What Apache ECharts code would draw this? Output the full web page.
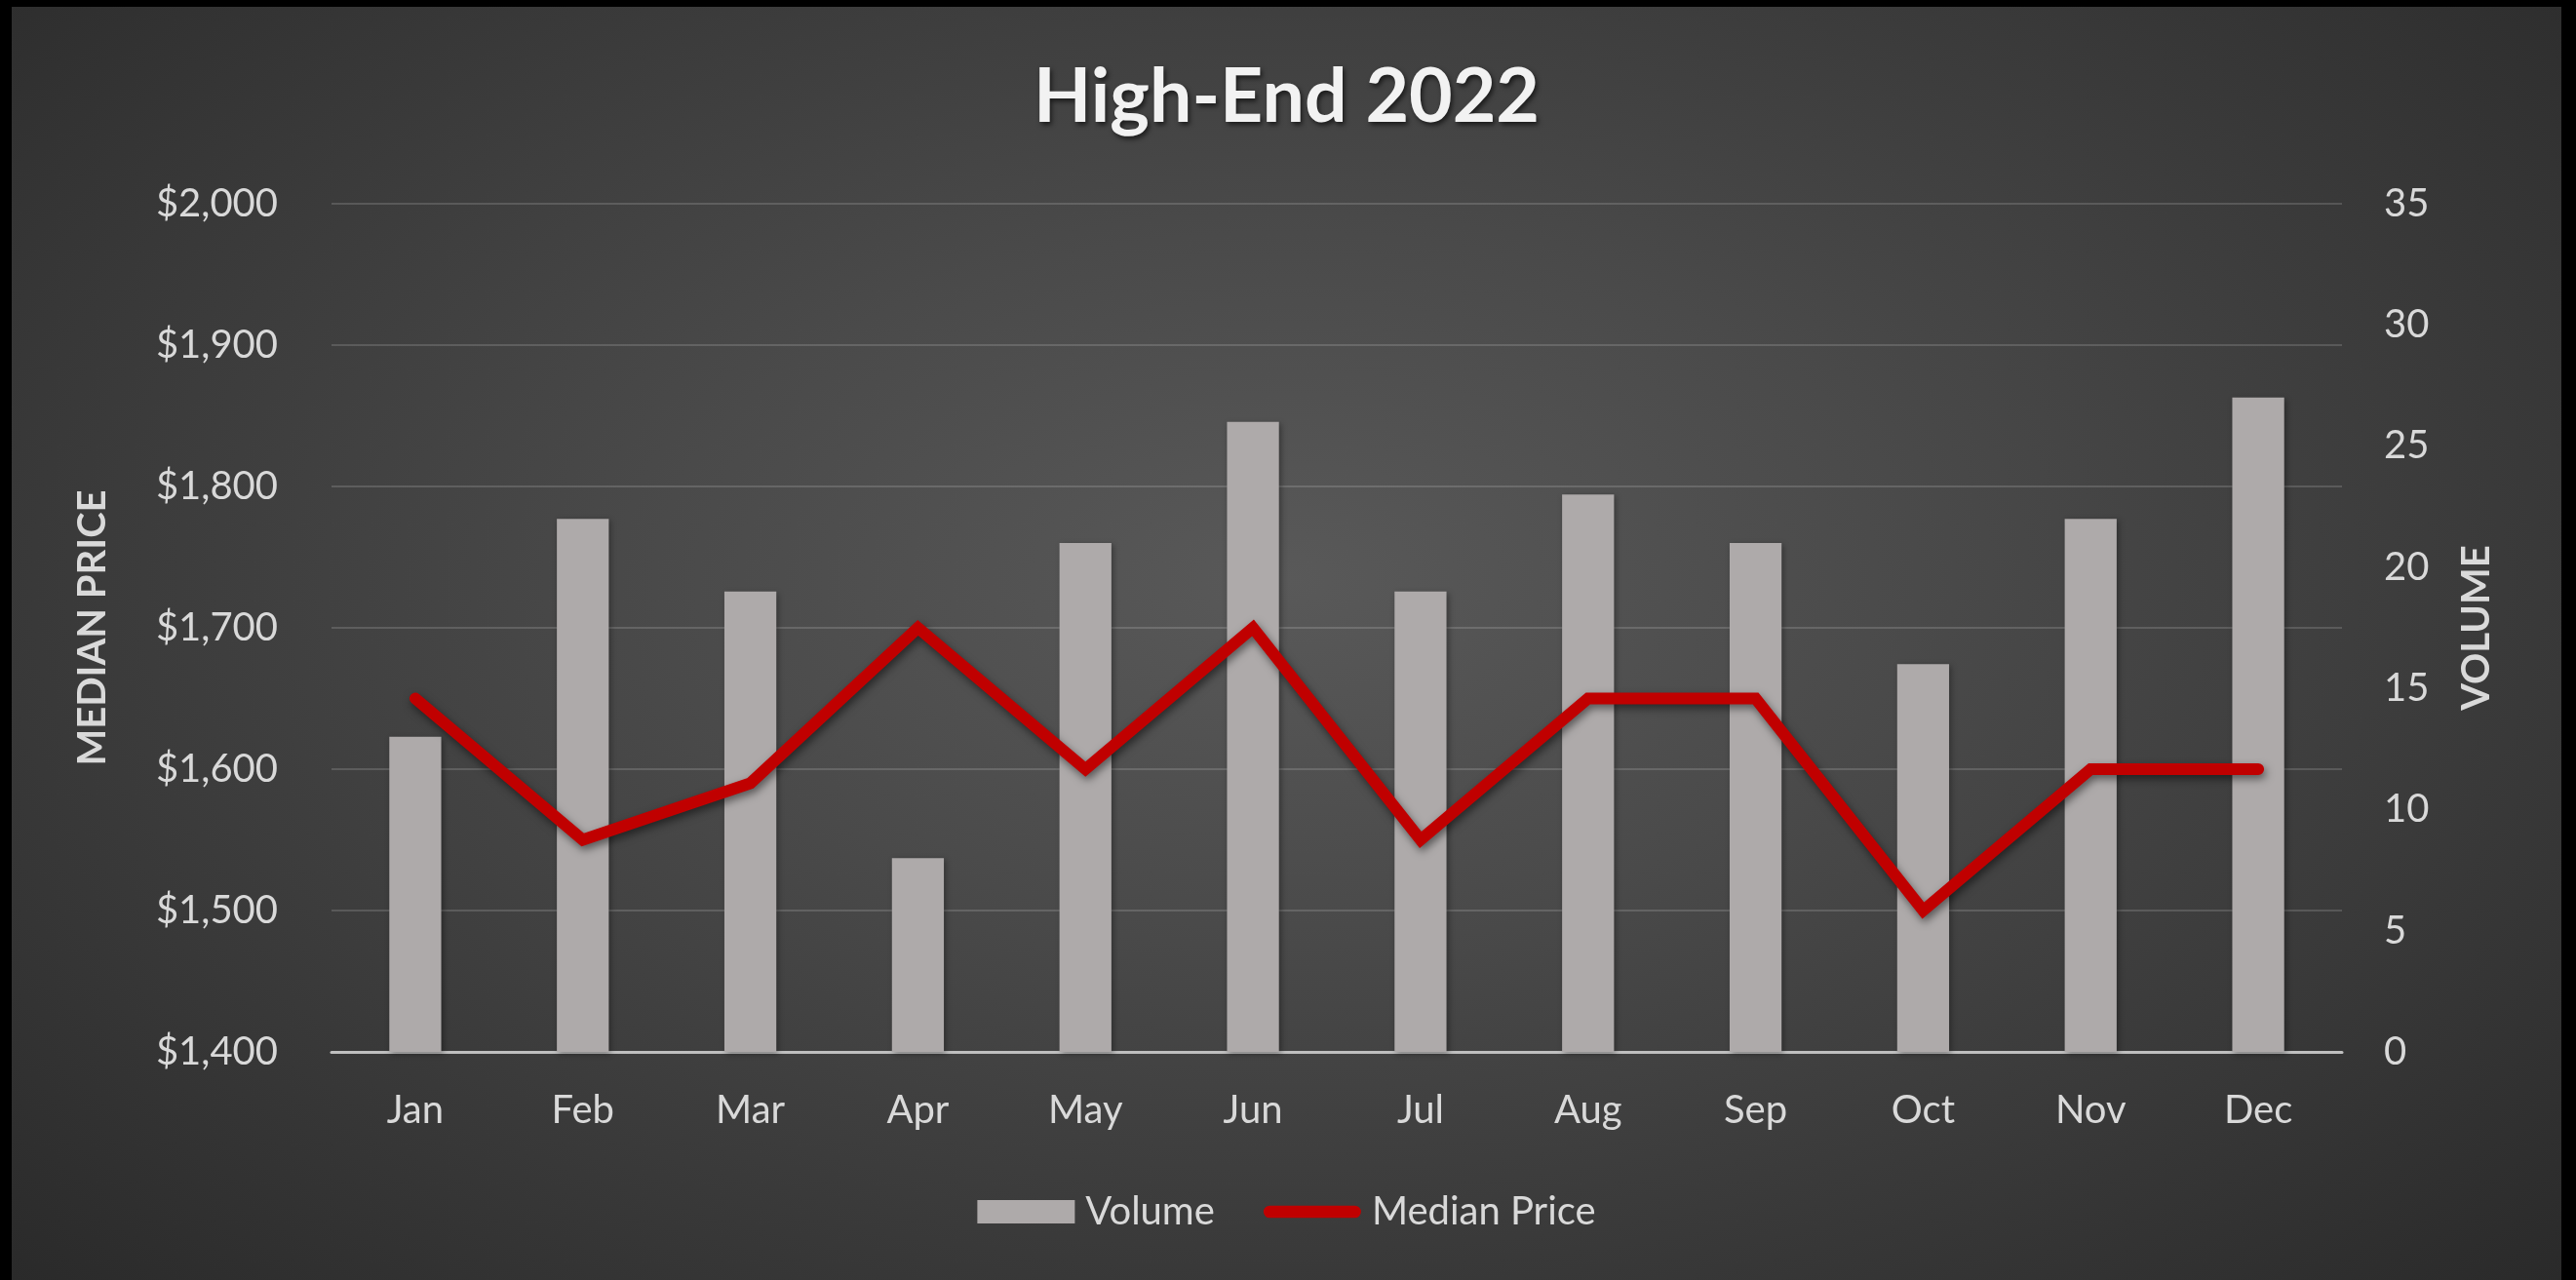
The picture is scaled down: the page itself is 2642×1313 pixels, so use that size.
<!DOCTYPE html>
<html>
<head>
<meta charset="utf-8">
<script src="https://cdn.jsdelivr.net/npm/echarts@6/dist/echarts.min.js"></script>
<style>
  html, body { margin: 0; padding: 0; background: #000; width: 2642px; height: 1313px; overflow: hidden; }
  #chart { position: absolute; left: 12px; top: 7px; width: 2615px; height: 1306px;
    background: radial-gradient(ellipse at 50% 45%, #595959 0%, #4a4a4a 35%, #2a2a2a 100%); }
</style>
</head>
<body>
<div id="chart"></div>
<script>
const titleText = 'High-End 2022';
const months = ['Jan','Feb','Mar','Apr','May','Jun','Jul','Aug','Sep','Oct','Nov','Dec'];
const volume = [13, 22, 19, 8, 21, 26, 19, 23, 21, 16, 22, 27];
const medianPrice = [1650, 1550, 1590, 1700, 1600, 1700, 1550, 1650, 1650, 1500, 1600, 1600];
const priceAxis = { name: 'MEDIAN PRICE', min: 1400, max: 2000, interval: 100 };
const volumeAxis = { name: 'VOLUME', min: 0, max: 35, interval: 5 };

const font = 'Lato, "Open Sans", sans-serif';
const textColor = '#d9d9d9';
// thick rounded line icon for the legend (outer moves keep the 110x24 frame)
const lineIcon = 'path://M0,0 M110,24 M7,5 L103,5 A7,7 0 0 1 103,19 L7,19 A7,7 0 0 1 7,5 Z';

const chart = echarts.init(document.getElementById('chart'), null, { renderer: 'canvas' });
chart.setOption({
  backgroundColor: 'transparent',
  animation: false,
  textStyle: { fontFamily: font },
  title: {
    text: titleText,
    left: 'center',
    top: 50,
    textStyle: {
      color: '#f2f2f2', fontSize: 77, fontWeight: 'bold', fontFamily: font,
      textShadowColor: 'rgba(0,0,0,0.6)', textShadowBlur: 5, textShadowOffsetX: 2, textShadowOffsetY: 3
    }
  },
  legend: {
    top: 1211,
    left: 'center',
    itemWidth: 100,
    itemHeight: 24,
    itemGap: 50,
    textStyle: { color: textColor, fontSize: 40, fontFamily: font, padding: [0, 0, 0, 6] },
    data: [
      { name: 'Volume', icon: 'rect' },
      { name: 'Median Price', icon: lineIcon, itemStyle: { color: '#c00000' } }
    ]
  },
  grid: { left: 328, right: 225, top: 202, bottom: 234, containLabel: false },
  xAxis: {
    type: 'category',
    data: months,
    axisTick: { show: false },
    axisLine: { lineStyle: { color: '#bfbfbf', width: 3 } },
    axisLabel: { color: textColor, fontSize: 40, margin: 40, fontFamily: font }
  },
  yAxis: [
    {
      type: 'value',
      name: priceAxis.name,
      nameLocation: 'middle',
      nameGap: 225,
      nameRotate: 90,
      nameTextStyle: { color: textColor, fontSize: 40, fontWeight: 'bold', fontFamily: font },
      min: priceAxis.min, max: priceAxis.max, interval: priceAxis.interval,
      axisLine: { show: false },
      axisTick: { show: false },
      splitLine: { lineStyle: { color: 'rgba(255,255,255,0.15)', width: 2 } },
      axisLabel: {
        color: textColor, fontSize: 40, margin: 55, fontFamily: font,
        formatter: v => '$' + v.toLocaleString('en-US')
      }
    },
    {
      type: 'value',
      name: volumeAxis.name,
      nameLocation: 'middle',
      nameGap: 118,
      nameRotate: 90,
      nameTextStyle: { color: textColor, fontSize: 40, fontWeight: 'bold', fontFamily: font },
      min: volumeAxis.min, max: volumeAxis.max, interval: volumeAxis.interval,
      axisLine: { show: false },
      axisTick: { show: false },
      splitLine: { show: false },
      axisLabel: { color: textColor, fontSize: 40, margin: 43, fontFamily: font }
    }
  ],
  series: [
    {
      name: 'Volume',
      type: 'bar',
      yAxisIndex: 1,
      data: volume,
      barWidth: '31%',
      itemStyle: { color: '#aeaaaa', shadowColor: 'rgba(0,0,0,0.35)', shadowBlur: 6, shadowOffsetX: 2, shadowOffsetY: 2 },
      z: 2
    },
    {
      name: 'Median Price',
      type: 'line',
      yAxisIndex: 0,
      data: medianPrice,
      symbol: 'none',
      itemStyle: { color: '#c00000' },
      lineStyle: {
        color: '#c00000', width: 12, cap: 'round', join: 'miter',
        shadowColor: 'rgba(0,0,0,0.5)', shadowBlur: 8, shadowOffsetX: 2, shadowOffsetY: 4
      },
      z: 3
    }
  ]
});
</script>
</body>
</html>
